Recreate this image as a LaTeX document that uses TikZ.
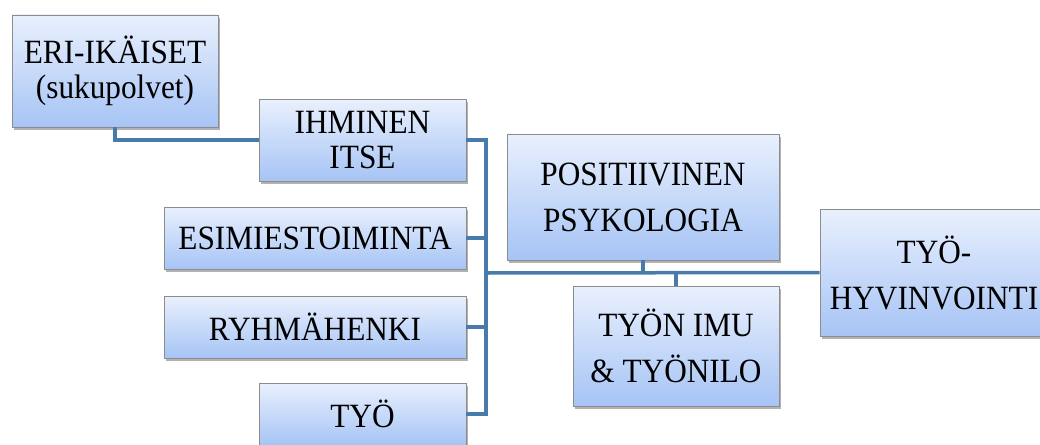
\documentclass[tikz,border=0pt]{standalone}
\usepackage{fontspec}
\setmainfont{Liberation Serif}[FakeStretch=0.92]
\usetikzlibrary{shadows}
\definecolor{boxtop}{RGB}{233,240,253}
\definecolor{boxbot}{RGB}{166,196,245}
\definecolor{boxline}{RGB}{140,140,140}
\definecolor{link}{RGB}{72,122,172}
\tikzset{
  box/.style={rectangle,draw=boxline,line width=0.7pt,top color=boxtop,bottom color=boxbot,
    align=center,inner sep=0pt,font=\fontsize{34}{46}\selectfont,
    drop shadow={shadow xshift=1.5pt,shadow yshift=-3pt,opacity=0.3,fill=black}},
  tight/.style={font=\fontsize{34}{35}\selectfont},
  wire/.style={draw=link,line width=3.5pt}
}
\begin{document}
\begin{tikzpicture}[x=1pt,y=-1pt]
  \useasboundingbox (0,0) rectangle (1040,444);
  \node[box,tight,minimum width=206pt,minimum height=112pt] (eri) at (115,71) {ERI-IKÄISET\\(sukupolvet)};
  \node[box,tight,minimum width=207pt,minimum height=82pt] (ihm) at (362.5,140) {IHMINEN\\ITSE};
  \node[box,minimum width=302pt,minimum height=62pt] (esi) at (315,238) {ESIMIESTOIMINTA};
  \node[box,minimum width=302pt,minimum height=62pt] (ryh) at (315,327) {RYHMÄHENKI};
  \node[box,minimum width=207pt,minimum height=62pt] (tyo) at (362.5,414) {TYÖ};
  \node[box,minimum width=272pt,minimum height=126pt] (pos) at (643,197) {POSITIIVINEN\\PSYKOLOGIA};
  \node[box,minimum width=206pt,minimum height=120pt] (imu) at (676,346) {TYÖN IMU\\\&~TYÖNILO};
  \node[box,minimum width=228pt,minimum height=127pt] (hyv) at (934,272.5) {TYÖ-\\HYVINVOINTI};
  \coordinate (hub) at (486,273);
  \draw[wire] (eri.south) |- (ihm.west);
  \draw[wire] (ihm.east) -| (hub) |- (tyo.east);
  \draw[wire] (esi.east) -- (esi.east -| hub);
  \draw[wire] (ryh.east) -- (ryh.east -| hub);
  \draw[wire] (hub) -- (hyv.west);
  \draw[wire] (pos.south) -- (pos.south |- hub);
  \draw[wire] (imu.north) -- (imu.north |- hub);
\end{tikzpicture}
\end{document}
